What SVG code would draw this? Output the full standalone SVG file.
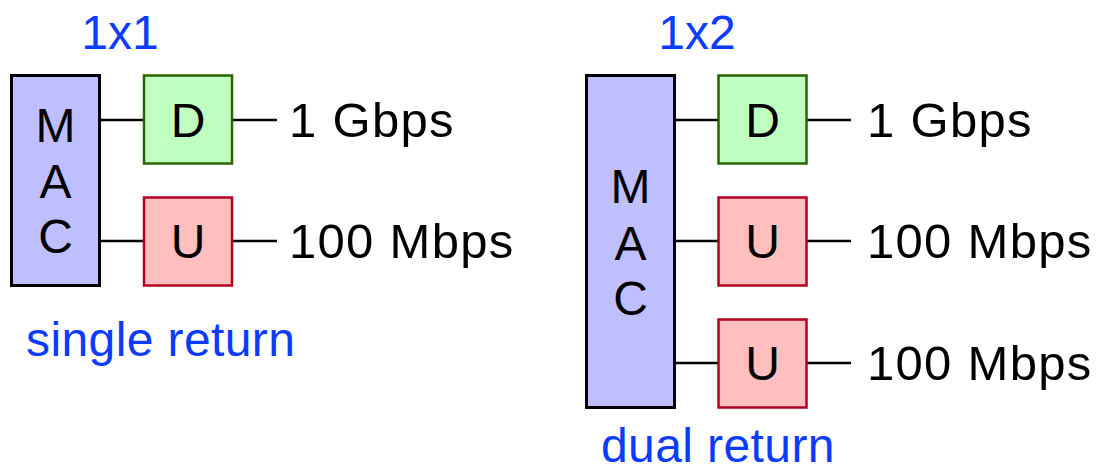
<svg xmlns="http://www.w3.org/2000/svg" width="1097" height="472" viewBox="0 0 1097 472">
<style>
text{font-family:"Liberation Sans",Arial,Helvetica,sans-serif;font-size:48px;}
.blk{fill:#000;}
.blue{fill:#0b3bff;}
.mid{text-anchor:middle;}
.rate{font-size:49px;letter-spacing:1.3px;}
.cap{letter-spacing:0.4px;}
.mac{fill:#bfbfff;stroke:#000;stroke-width:3;}
.d{fill:#bfffbf;stroke:#2a6300;stroke-width:2.5;}
.u{fill:#ffbfbf;stroke:#b3001f;stroke-width:2.5;}
.ln{stroke:#000;stroke-width:2.5;fill:none;}
</style>
<rect width="1097" height="472" fill="#fff"/>
<g id="connectors">
<line class="ln" x1="100" y1="120" x2="144" y2="120"/>
<line class="ln" x1="232" y1="120" x2="277" y2="120"/>
<line class="ln" x1="100" y1="241" x2="144" y2="241"/>
<line class="ln" x1="232" y1="241" x2="277" y2="241"/>
<line class="ln" x1="675" y1="120" x2="718" y2="120"/>
<line class="ln" x1="806" y1="120" x2="851" y2="120"/>
<line class="ln" x1="675" y1="241" x2="718" y2="241"/>
<line class="ln" x1="806" y1="241" x2="851" y2="241"/>
<line class="ln" x1="675" y1="363" x2="718" y2="363"/>
<line class="ln" x1="806" y1="363" x2="851" y2="363"/>
</g>
<g id="label-1x1"><text class="blue mid" x="120" y="49">1x1</text></g>
<g id="mac1">
<rect class="mac" x="11.5" y="75.5" width="88" height="210"/>
<text class="blk mid" x="55.5" y="142">M</text>
<text class="blk mid" x="55.5" y="198">A</text>
<text class="blk mid" x="55.5" y="253">C</text>
</g>
<g id="d1">
<rect class="d" x="144" y="75.5" width="88" height="88"/>
<text class="blk mid" x="188" y="137">D</text>
</g>
<g id="u1">
<rect class="u" x="144" y="197.5" width="88" height="88"/>
<text class="blk mid" x="188" y="258">U</text>
</g>
<g id="rate1"><text class="blk rate" x="289" y="137">1 Gbps</text></g>
<g id="rate2"><text class="blk rate" x="289" y="258">100 Mbps</text></g>
<g id="label-single"><text class="blue cap" x="26" y="356">single return</text></g>

<g id="label-1x2"><text class="blue mid" x="697" y="49">1x2</text></g>
<g id="mac2">
<rect class="mac" x="586.5" y="75.5" width="88" height="332"/>
<text class="blk mid" x="630.5" y="203">M</text>
<text class="blk mid" x="630.5" y="260">A</text>
<text class="blk mid" x="630.5" y="315">C</text>
</g>
<g id="d2">
<rect class="d" x="718.5" y="75.5" width="88" height="88"/>
<text class="blk mid" x="762.5" y="137">D</text>
</g>
<g id="u2">
<rect class="u" x="718.5" y="197.5" width="88" height="88"/>
<text class="blk mid" x="762.5" y="258">U</text>
</g>
<g id="u3">
<rect class="u" x="718.5" y="319.5" width="88" height="88"/>
<text class="blk mid" x="762.5" y="380">U</text>
</g>
<g id="rate3"><text class="blk rate" x="867" y="137">1 Gbps</text></g>
<g id="rate4"><text class="blk rate" x="867" y="258">100 Mbps</text></g>
<g id="rate5"><text class="blk rate" x="867" y="380">100 Mbps</text></g>
<g id="label-dual"><text class="blue cap" x="601" y="462">dual return</text></g>
</svg>
